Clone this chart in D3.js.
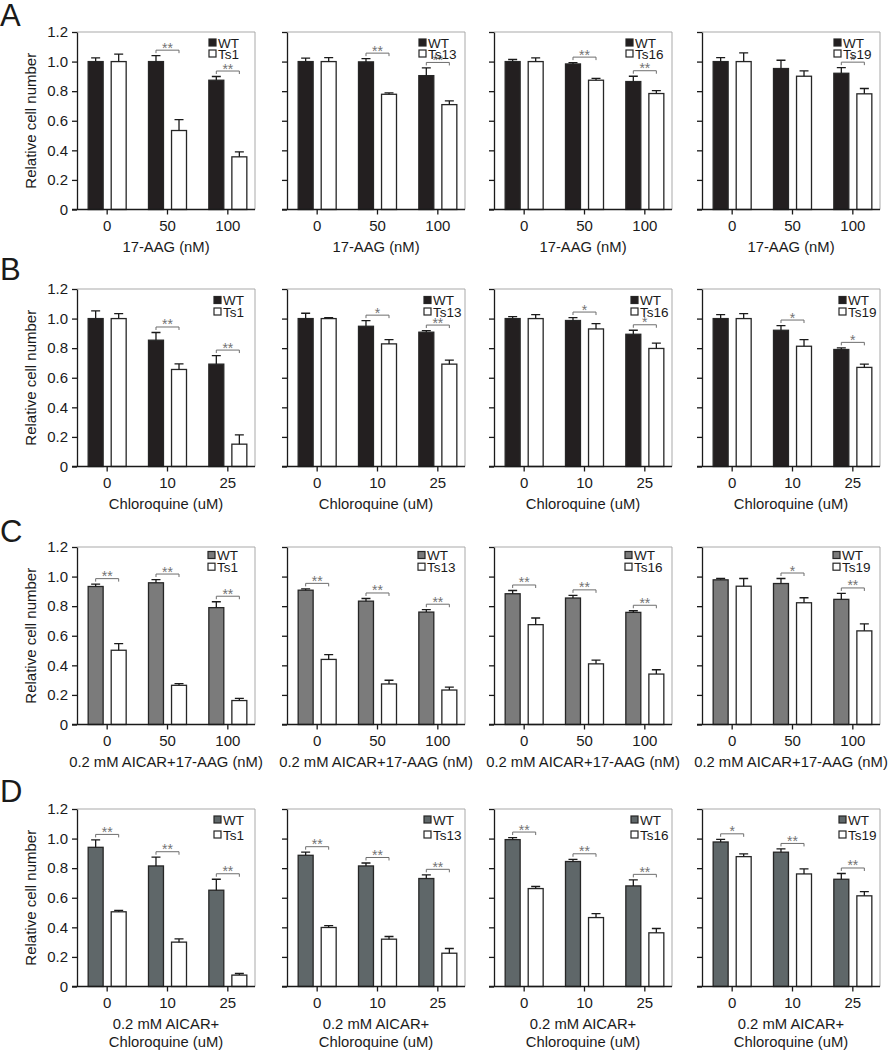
<!DOCTYPE html>
<html><head><meta charset="utf-8">
<script src="https://cdn.jsdelivr.net/npm/d3@7"></script>
<style>
body{margin:0;background:#fff}
svg{display:block}
text{font-family:"Liberation Sans",Arial,Helvetica,sans-serif;fill:#1a1a1a}
</style>
</head><body>
<svg id="chart" width="890" height="1050"></svg>
<script>
// ---------------- DATA ----------------
const rowLetters = ["A", "B", "C", "D"];
const panelNames = ["Ts1", "Ts13", "Ts16", "Ts19"];
const seriesKeys = ["WT", "Ts"];
const dosesAAG = ["0", "50", "100"];
const dosesCQ = ["0", "10", "25"];
const yTickValues = [0, 0.2, 0.4, 0.6, 0.8, 1.0, 1.2];
const titleA = ["17-AAG (nM)"];
const titleB = ["Chloroquine (uM)"];
const titleC = ["0.2 mM AICAR+17-AAG (nM)"];
const titleD = ["0.2 mM AICAR+", "Chloroquine (uM)"];

// Row A: 17-AAG
const aWT    = [[1.00, 1.00, 0.874], [1.00, 0.998, 0.905], [1.00, 0.984, 0.865], [1.00, 0.953, 0.921]];
const aWTErr = [[0.025, 0.04, 0.025], [0.023, 0.022, 0.052], [0.014, 0.009, 0.036], [0.027, 0.056, 0.038]];
const aTs    = [[1.00, 0.534, 0.356], [1.00, 0.779, 0.709], [1.00, 0.874, 0.784], [1.00, 0.901, 0.782]];
const aTsErr = [[0.05, 0.074, 0.034], [0.027, 0.01, 0.025], [0.025, 0.013, 0.02], [0.059, 0.036, 0.036]];
const aSig   = [["", "**", "**"], ["", "**", "**"], ["", "**", "**"], ["", "", "*"]];

// Row B: Chloroquine
const bWT    = [[1.00, 0.854, 0.692], [1.00, 0.948, 0.908], [1.00, 0.987, 0.894], [1.00, 0.921, 0.791]];
const bWTErr = [[0.052, 0.052, 0.058], [0.036, 0.038, 0.011], [0.013, 0.02, 0.027], [0.027, 0.032, 0.011]];
const bTs    = [[1.00, 0.656, 0.151], [1.00, 0.829, 0.692], [1.00, 0.93, 0.798], [1.00, 0.813, 0.67]];
const bTsErr = [[0.034, 0.038, 0.063], [0.007, 0.029, 0.027], [0.027, 0.036, 0.036], [0.034, 0.045, 0.022]];
const bSig   = [["", "**", "**"], ["", "*", "**"], ["", "*", "*"], ["", "*", "*"]];

// Row C: AICAR + 17-AAG
const cWT    = [[0.933, 0.958, 0.79], [0.908, 0.834, 0.76], [0.884, 0.855, 0.758], [0.978, 0.953, 0.846]];
const cWTErr = [[0.016, 0.022, 0.04], [0.009, 0.018, 0.016], [0.022, 0.018, 0.011], [0.009, 0.034, 0.04]];
const cTs    = [[0.502, 0.265, 0.162], [0.44, 0.274, 0.233], [0.675, 0.41, 0.341], [0.935, 0.823, 0.633]];
const cTsErr = [[0.045, 0.011, 0.015], [0.033, 0.025, 0.02], [0.045, 0.025, 0.029], [0.052, 0.034, 0.047]];
const cSig   = [["**", "**", "**"], ["**", "**", "**"], ["**", "**", "**"], ["", "*", "**"]];

// Row D: AICAR + Chloroquine
const dWT    = [[0.941, 0.815, 0.651], [0.887, 0.815, 0.73], [0.993, 0.845, 0.68], [0.977, 0.908, 0.725]];
const dWTErr = [[0.05, 0.059, 0.074], [0.021, 0.02, 0.025], [0.014, 0.015, 0.041], [0.018, 0.022, 0.039]];
const dTs    = [[0.505, 0.30, 0.077], [0.399, 0.32, 0.225], [0.662, 0.466, 0.363], [0.878, 0.761, 0.613]];
const dTsErr = [[0.009, 0.022, 0.011], [0.013, 0.018, 0.032], [0.014, 0.027, 0.029], [0.018, 0.034, 0.029]];
const dSig   = [["**", "**", "**"], ["**", "**", "**"], ["**", "**", "**"], ["*", "**", "**"]];

// ---------------- LAYOUT ----------------
const panelLeft = [77, 287, 494, 702];
const panelW = 178;
const panelH = 177.5;
const rowTop = [32, 289, 547, 809];
const letterY = [26, 280, 542, 802];
const wtColors = ["#231f20", "#231f20", "#7b7b7b", "#5f6769"];
const legendDx = [132, 137, 131, 137];
const legendDy = [7, 7.5, 4.5, 7];
const legendGap = [11, 11.5, 11.7, 15];

const rows = [
  {doses: dosesAAG, title: titleA, wt: aWT, wtErr: aWTErr, ts: aTs, tsErr: aTsErr, sig: aSig},
  {doses: dosesCQ,  title: titleB, wt: bWT, wtErr: bWTErr, ts: bTs, tsErr: bTsErr, sig: bSig},
  {doses: dosesAAG, title: titleC, wt: cWT, wtErr: cWTErr, ts: cTs, tsErr: cTsErr, sig: cSig},
  {doses: dosesCQ,  title: titleD, wt: dWT, wtErr: dWTErr, ts: dTs, tsErr: dTsErr, sig: dSig}
];

const svg = d3.select("#chart");
const ink = "#1a1a1a";
const yFmt = d => d === 0 ? "0" : d3.format(".1f")(d);

rows.forEach((row, ri) => {
  const top = rowTop[ri], bottom = top + panelH;
  const y = d3.scaleLinear().domain([0, 1.2]).range([bottom, top]);

  svg.append("text").text(rowLetters[ri])
    .attr("x", 0).attr("y", letterY[ri]).attr("font-size", 31);

  // y title
  svg.append("text").text("Relative cell number")
    .attr("transform", `translate(36,${(top + bottom) / 2}) rotate(-90)`)
    .attr("text-anchor", "middle").attr("font-size", 15);

  panelNames.forEach((pn, pi) => {
    const left = panelLeft[pi];
    const g = svg.append("g");
    const x = d3.scaleBand().domain(row.doses).range([left, left + 181]);
    const center = d => x(d) + x.bandwidth() / 2;
    const sub = d => d3.scaleBand().domain(seriesKeys)
      .range([center(d) - 19, center(d) + 19]).paddingInner(0.35);

    // frame (top + right)
    g.append("path")
      .attr("d", `M${left},${top}H${left + panelW}V${bottom}`)
      .attr("fill", "none").attr("stroke", "#a9a9a9").attr("stroke-width", 1);

    const data = row.doses.map((d, i) => ({
      dose: d,
      sig: row.sig[pi][i],
      vals: [
        {k: "WT", v: row.wt[pi][i], e: row.wtErr[pi][i]},
        {k: "Ts", v: row.ts[pi][i], e: row.tsErr[pi][i]}
      ]
    }));

    data.forEach(grp => {
      const s = sub(grp.dose);
      const gg = g.append("g");
      gg.selectAll("rect").data(grp.vals).join("rect")
        .attr("x", d => s(d.k)).attr("width", s.bandwidth())
        .attr("y", d => y(d.v)).attr("height", d => y(0) - y(d.v))
        .attr("fill", d => d.k === "WT" ? wtColors[ri] : "#fff")
        .attr("stroke", "#262626").attr("stroke-width", 1.3);
      // error bars
      gg.selectAll("path.err").data(grp.vals).join("path").attr("class", "err")
        .attr("d", d => {
          const cx = s(d.k) + s.bandwidth() / 2;
          return `M${cx},${y(d.v)}V${y(d.v + d.e)}M${cx - 4.5},${y(d.v + d.e)}H${cx + 4.5}`;
        })
        .attr("fill", "none").attr("stroke", ink).attr("stroke-width", 1.3);
      // significance
      if (grp.sig) {
        const maxTop = d3.max(grp.vals, d => d.v + d.e);
        const yb = y(maxTop) - 5.5;
        const x1 = s("WT") + s.bandwidth() / 2, x2 = s("Ts") + s.bandwidth() / 2;
        gg.append("path")
          .attr("d", `M${x1},${yb + 3}V${yb}H${x2}V${yb + 3}`)
          .attr("fill", "none").attr("stroke", "#6e6e6e").attr("stroke-width", 1);
        gg.append("text").text(grp.sig)
          .attr("x", (x1 + x2) / 2).attr("y", yb + 2.5)
          .attr("text-anchor", "middle").attr("font-size", 14)
          .style("fill", "#737373");
      }
    });

    // y axis
    const ya = g.append("g").attr("transform", `translate(${left},0)`)
      .call(d3.axisLeft(y).tickValues(yTickValues).tickSize(5).tickSizeOuter(0)
        .tickPadding(4).tickFormat(pi === 0 ? yFmt : () => ""));
    ya.select(".domain").attr("stroke", ink).attr("stroke-width", 1.3);
    ya.selectAll(".tick line").attr("stroke", ink).attr("stroke-width", 1.3);
    ya.selectAll(".tick text").attr("font-size", 15).attr("font-family", null).style("fill", ink);

    // x axis
    g.append("path").attr("d", `M${left - 5},${bottom}H${left + panelW}`)
      .attr("stroke", ink).attr("stroke-width", 1.3);
    const xa = g.append("g").attr("transform", `translate(0,${bottom})`)
      .call(d3.axisBottom(x).tickSize(5).tickSizeOuter(0).tickPadding(5.5));
    xa.select(".domain").remove();
    xa.selectAll(".tick line").attr("stroke", ink).attr("stroke-width", 1.3);
    xa.selectAll(".tick text").attr("font-size", 15).attr("font-family", null).style("fill", ink);

    // x title
    row.title.forEach((t, li) => {
      g.append("text").text(t)
        .attr("x", left + panelW / 2).attr("y", bottom + 42 + li * 18)
        .attr("text-anchor", "middle").attr("font-size", 14.8);
    });

    // legend
    const lx = left + legendDx[ri];
    const labels = ["WT", pn];
    labels.forEach((lab, li) => {
      const ly = top + legendDy[ri] + li * legendGap[ri];
      g.append("rect").attr("x", lx).attr("y", ly).attr("width", 7).attr("height", 7)
        .attr("fill", li === 0 ? wtColors[ri] : "#fff")
        .attr("stroke", "#262626").attr("stroke-width", 1.2);
      g.append("text").text(lab).attr("x", lx + 9).attr("y", ly + 8.5)
        .attr("font-size", 13.5);
    });
  });
});
</script>
</body></html>
